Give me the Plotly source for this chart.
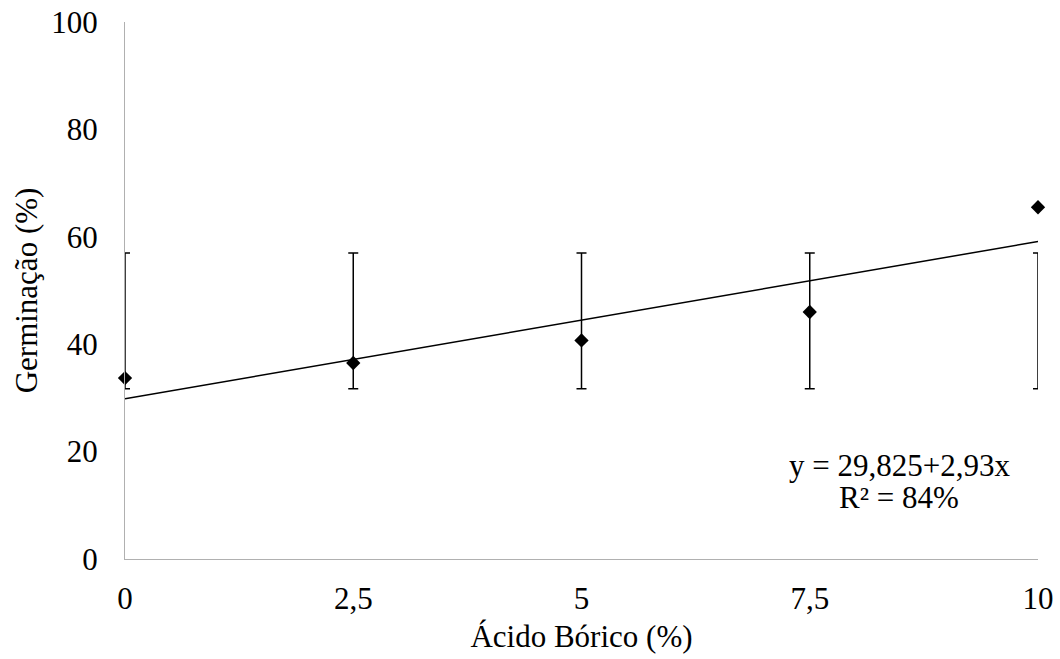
import plotly.graph_objects as go

# Data
acido_borico = [0, 2.5, 5, 7.5, 10]
germinacao = [33.7, 36.5, 40.7, 46.0, 65.5]
erro_sup = [57.0, 57.0, 57.0, 57.0, 57.0]   # top of error bar
erro_inf = [31.7, 31.7, 31.7, 31.7, 31.7]   # bottom of error bar
intercepto = 29.825
inclinacao = 2.93
x_ticks = [0, 2.5, 5, 7.5, 10]
x_tick_labels = ["0", "2,5", "5", "7,5", "10"]
y_ticks = [0, 20, 40, 60, 80, 100]

plus = [t - y for t, y in zip(erro_sup, germinacao)]
minus = [y - b for b, y in zip(erro_inf, germinacao)]

trend_x = [acido_borico[0], acido_borico[-1]]
trend_y = [intercepto + inclinacao * v for v in trend_x]

FONT = "Liberation Serif"
FS = 31

fig = go.Figure()
fig.add_trace(go.Scatter(
    x=trend_x, y=trend_y, mode="lines",
    line=dict(color="black", width=1.5),
    showlegend=False, hoverinfo="skip",
))
fig.add_trace(go.Scatter(
    x=acido_borico, y=germinacao, mode="markers",
    marker=dict(symbol="diamond", size=11, color="black"),
    error_y=dict(type="data", symmetric=False, array=plus, arrayminus=minus,
                 color="black", thickness=1.5, width=5),
    cliponaxis=False, showlegend=False,
))

fig.add_annotation(
    x=0.848, y=0.175, xref="paper", yref="paper", xanchor="center", yanchor="middle",
    text="y = 29,825+2,93x",
    showarrow=False, font=dict(family=FONT, size=FS, color="black"),
)
fig.add_annotation(
    x=0.848, y=0.115, xref="paper", yref="paper", xanchor="center", yanchor="middle",
    text="R² = 84%",
    showarrow=False, font=dict(family=FONT, size=FS, color="black"),
)

fig.update_layout(
    width=1060, height=659,
    margin=dict(l=125, r=22, t=22, b=100),
    paper_bgcolor="white", plot_bgcolor="white",
    font=dict(family=FONT, size=FS, color="black"),
)
fig.update_xaxes(
    range=[0, 10], tickvals=x_ticks, ticktext=x_tick_labels, automargin=False,
    showgrid=False, zeroline=False, showline=True, linecolor="#b0b0b0", linewidth=1,
    ticks="", ticklabelstandoff=12,
    title=dict(text="Ácido Bórico (%)", font=dict(family=FONT, size=FS), standoff=10),
)
fig.update_yaxes(
    range=[0, 100], tickvals=y_ticks, automargin=False,
    showgrid=False, zeroline=False, showline=True, linecolor="#b0b0b0", linewidth=1,
    ticks="", ticklabelstandoff=20,
    title=dict(text="Germinação (%)", font=dict(family=FONT, size=FS), standoff=4),
)

fig.write_html("out.html")
